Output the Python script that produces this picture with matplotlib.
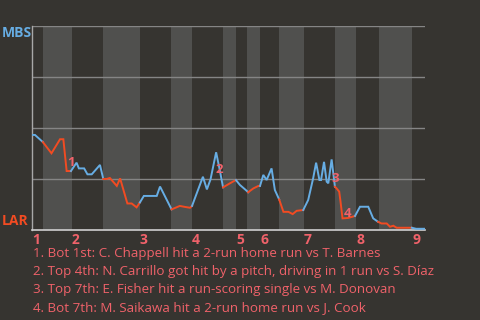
import matplotlib.pyplot as plt

# win probability for MBS (1 = MBS wins, 0 = LAR wins), one list per half-inning
# x is the play index across the game
half_x = [
    [0.0, 0.9, 3.3],                                              # top 1
    [5.9, 8.5, 9.5, 10.5, 11.8],                                  # bot 1
    [13.5, 14.2, 15.8, 16.8, 18.1, 20.6, 21.6],                   # top 2
    [22.6, 23.6, 25.7, 26.7, 28.9, 30.2, 31.7, 32.7],             # bot 2
    [33.9, 37.8, 38.8, 42.3],                                     # top 3
    [44.8, 46.4, 47.9, 48.5],                                     # bot 3
    [51.8, 53.0, 54.1, 55.8, 56.9, 57.9],                         # top 4
    [60.0, 61.8],                                                 # bot 4
    [63.0, 65.0, 65.5],                                           # top 5
    [67.1, 68.6, 69.1],                                           # bot 5
    [70.1, 71.1, 72.6, 73.6, 74.9],                               # top 6
    [76.2, 77.7, 79.0, 80.2, 82.2],                               # bot 6
    [83.7, 85.2, 86.1, 87.1, 87.6, 88.5, 89.3, 89.8, 90.8, 91.8], # top 7
    [92.3, 93.1, 93.5, 94.1, 95.8, 97.9],                         # bot 7
    [99.4, 101.9, 103.4, 104.9],                                  # top 8
    [105.9, 107.5, 108.5, 109.5, 110.5, 115.1],                   # bot 8
    [116.4, 119.1],                                               # top 9
]
half_wp = [
    [0.466, 0.466, 0.431],
    [0.376, 0.445, 0.445, 0.289, 0.289],
    [0.330, 0.302, 0.302, 0.273, 0.273, 0.319, 0.250],
    [0.250, 0.255, 0.216, 0.253, 0.130, 0.130, 0.111, 0.135],
    [0.167, 0.167, 0.213, 0.101],
    [0.118, 0.113, 0.109, 0.118],
    [0.261, 0.199, 0.248, 0.381, 0.294, 0.209],
    [0.229, 0.245],
    [0.221, 0.193, 0.185],
    [0.204, 0.216, 0.216],
    [0.270, 0.245, 0.302, 0.196, 0.150],
    [0.089, 0.089, 0.078, 0.094, 0.098],
    [0.147, 0.253, 0.330, 0.245, 0.245, 0.334, 0.237, 0.229, 0.346, 0.212],
    [0.204, 0.188, 0.139, 0.057, 0.059, 0.069],
    [0.114, 0.114, 0.057, 0.040],
    [0.032, 0.032, 0.016, 0.021, 0.011, 0.011],
    [0.006, 0.006],
]

# half-inning boundaries (play index)
half_edges = [0.0, 3.3, 12.1, 21.5, 32.7, 42.1, 48.5, 57.9, 61.8, 65.2,
              69.1, 74.8, 82.4, 91.8, 98.2, 105.2, 115.2, 119.1]
inning_labels = ["1", "2", "3", "4", "5", "6", "7", "8", "9"]

# key events
event_x = [11.8, 56.7, 91.8, 95.5]
event_wp = [0.333, 0.299, 0.250, 0.083]
event_text = [
    "1. Bot 1st: C. Chappell hit a 2-run home run vs T. Barnes",
    "2. Top 4th: N. Carrillo got hit by a pitch, driving in 1 run vs S. Díaz",
    "3. Top 7th: E. Fisher hit a run-scoring single vs M. Donovan",
    "4. Bot 7th: M. Saikawa hit a 2-run home run vs J. Cook",
]

away_team, home_team = "MBS", "LAR"

bg = "#363430"
band = "#50504e"
blue = "#67ade3"
red = "#f24b22"
pink = "#f0626a"

plt.rcParams["font.family"] = ["Open Sans", "DejaVu Sans"]

fig = plt.figure(figsize=(4.8, 3.2), dpi=100, facecolor=bg)
ax = fig.add_axes([32 / 480, 1 - 230 / 320, 393 / 480, 204 / 320])
ax.set_facecolor(bg)

# shade bottom halves
for i in range(1, len(half_edges) - 1, 2):
    ax.axvspan(half_edges[i], half_edges[i + 1], color=band, lw=0, zorder=0)

for y in [0.25, 0.5, 0.75, 1.0]:
    ax.axhline(y, color="#858585", lw=1, zorder=1)

# win probability line, coloured by batting team
prev = None
for i, (xs, ys) in enumerate(zip(half_x, half_wp)):
    col = blue if i % 2 == 0 else red
    if prev is not None:
        xs = [prev[0]] + xs
        ys = [prev[1]] + ys
    ax.plot(xs, ys, color=col, lw=1.4, zorder=3, solid_joinstyle="miter")
    prev = (xs[-1], ys[-1])

for k, (ex, ey) in enumerate(zip(event_x, event_wp)):
    ax.text(ex, ey, str(k + 1), color=pink, fontsize=9.5, fontweight="bold",
            ha="center", va="center", zorder=4)

ax.set_xlim(half_edges[0], half_edges[-1])
ax.set_ylim(0, 1)
ax.set_yticks([])
ax.set_xticks(half_edges[0:-1:2])
ax.set_xticklabels(inning_labels)
ax.tick_params(axis="x", length=0, pad=2)
for lab in ax.get_xticklabels():
    lab.set_color(pink)
    lab.set_fontweight("bold")
    lab.set_fontsize(10)
    lab.set_horizontalalignment("left")

for s in ["top", "right"]:
    ax.spines[s].set_visible(False)
ax.spines["left"].set_color("#a8a8a8")
ax.spines["bottom"].set_color("#d0d0d0")
ax.spines["left"].set_linewidth(1)
ax.spines["bottom"].set_linewidth(1.2)

fig.text(2 / 480, 1 - 33 / 320, away_team, color=blue, fontsize=10,
         fontweight="bold", ha="left", va="center")
fig.text(2 / 480, 1 - 221 / 320, home_team, color=red, fontsize=10,
         fontweight="bold", ha="left", va="center")

for j, line in enumerate(event_text):
    fig.text(33 / 480, 1 - (254 + j * 17.7) / 320, line, color=pink,
             fontsize=9.6, ha="left", va="center")

fig.savefig("out.png", dpi=100, facecolor=bg)
